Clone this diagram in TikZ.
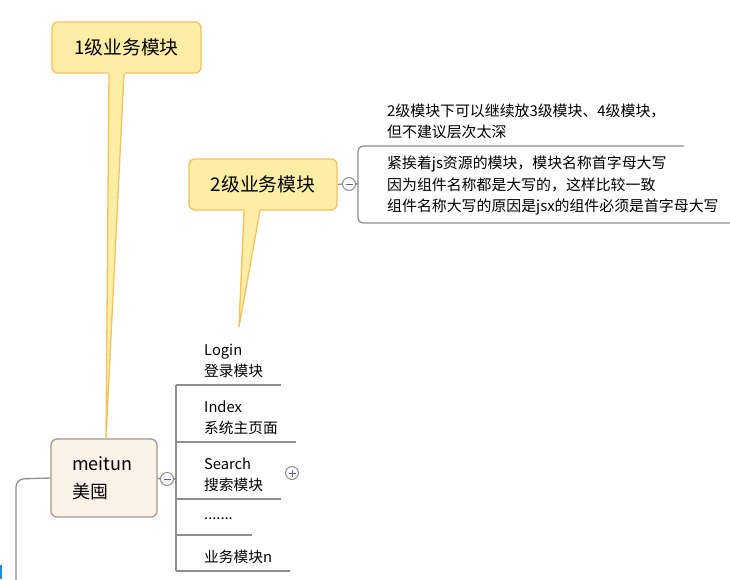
\documentclass[tikz,border=0pt]{standalone}
\usepackage{fontspec}
\setmainfont{Noto Sans CJK SC}
\definecolor{calloutfill}{HTML}{FEEDA4}
\definecolor{calloutline}{HTML}{F6C260}
\definecolor{topicfill}{HTML}{FDF2E8}
\definecolor{topicline}{HTML}{A5978A}
\definecolor{linegray}{HTML}{8E8E8E}
\definecolor{signblue}{HTML}{4F5FA8}
\definecolor{markblue}{HTML}{1E8FD8}
\begin{document}
\begin{tikzpicture}[x=1pt,y=-1pt,
  callout/.style={fill=calloutfill,draw=calloutline,line width=1.4pt,rounded corners=6pt,
    inner sep=0pt,minimum width=149pt,minimum height=51pt,font=\fontsize{18.8}{22}\selectfont},
  tailfill/.style={fill=calloutfill},
  tailline/.style={draw=calloutline,line width=1.3pt,line join=round},
  topic/.style={fill=topicfill,draw=topicline,line width=1.3pt,rounded corners=6pt,
    minimum height=78pt,text width=64pt,inner xsep=21pt,align=left,
    font=\fontsize{18}{28}\selectfont},
  conn/.style={draw=linegray,line width=1.3pt},
  item/.style={anchor=west,inner sep=0pt,align=left,font=\fontsize{14.7}{21}\selectfont},
  note/.style={anchor=west,inner sep=0pt,align=left,font=\fontsize{14.9}{21.5}\selectfont},
  toggle/.style={circle,draw=linegray,fill=white,line width=1pt,minimum size=13pt,inner sep=0pt},
  sign/.style={draw=signblue,line width=1pt}
]
\useasboundingbox (0,0) rectangle (730,579);

% callout 1
\node[callout] (c1) at (126.5,47.5) {1级业务模块};
\fill[tailfill] (109,71) -- (106,438) -- (124,71) -- cycle;
\draw[tailline] (109,73.6) -- (106,438) -- (124,73.6);

% callout 2
\node[callout,minimum width=148pt] (c2) at (263,184.5) {2级业务模块};
\fill[tailfill] (244,208) -- (239,327) -- (260,208) -- cycle;
\draw[tailline] (244,210.6) -- (239,327) -- (260,210.6);

% central topic
\node[topic] (meitun) at (104,478) {meitun\\美囤};

% left connector and blue mark
\draw[conn,rounded corners=8pt] (meitun.west) -- (16,479) -- (16,580);
\fill[markblue] (0,565) rectangle (2.2,579);

% minus toggle of meitun
\node[toggle] (m1) at (167,479) {};
\draw[sign] ([xshift=-3.5pt]m1.center) -- ([xshift=3.5pt]m1.center);
\draw[conn] (meitun.east) -- (m1.west);
\coordinate (trunk) at (176,479);
\draw[conn] (m1.east) -- (trunk);

% trunk and item underlines
\coordinate (t1) at (176,385);
\coordinate (t2) at (176,442);
\coordinate (t3) at (176,499);
\coordinate (t4) at (176,535);
\coordinate (t5) at (176,571);
\coordinate (e1) at (281,385);
\coordinate (e2) at (296,442);
\coordinate (e3) at (281,499);
\coordinate (e4) at (252,535);
\coordinate (e5) at (290,571);
\draw[conn] (t1) -- (t5);
\draw[conn] (t1) -- (e1);
\draw[conn] (t2) -- (e2);
\draw[conn] (t3) -- (e3);
\draw[conn] (t4) -- (e4);
\draw[conn] (t5) -- (e5);

% items
\node[item] (login) at (204,361) {Login\\登录模块};
\node[item] (index) at (204,418) {Index\\系统主页面};
\node[item] (search) at (204,474.5) {Search\\搜索模块};
\node[item] (dots) at (204,519) {.......};
\node[item] (bizn) at (204,557) {业务模块n};

% plus toggle of Search
\node[toggle] (p1) at (292,473) {};
\draw[sign] ([xshift=-3.5pt]p1.center) -- ([xshift=3.5pt]p1.center);
\draw[sign] ([yshift=-3.5pt]p1.center) -- ([yshift=3.5pt]p1.center);

% minus toggle of callout 2 and notes bracket
\node[toggle] (m2) at (349,184) {};
\draw[sign] ([xshift=-3.5pt]m2.center) -- ([xshift=3.5pt]m2.center);
\draw[conn] (c2.east) -- (m2.west);
\coordinate (b0) at (358,184);
\coordinate (btop) at (684,146);
\coordinate (bbot) at (730,223);
\draw[conn] (m2.east) -- (b0);
\draw[conn,rounded corners=5pt] (btop) -- (358,146) -- (358,223) -- (bbot);

% notes
\node[note] (note1) at (387,121.5) {2级模块下可以继续放3级模块、4级模块，\\但不建议层次太深};
\node[note] (note2) at (387,185.5) {紧挨着js资源的模块，模块名称首字母大写\\因为组件名称都是大写的，这样比较一致\\组件名称大写的原因是jsx的组件必须是首字母大写};
\end{tikzpicture}
\end{document}
